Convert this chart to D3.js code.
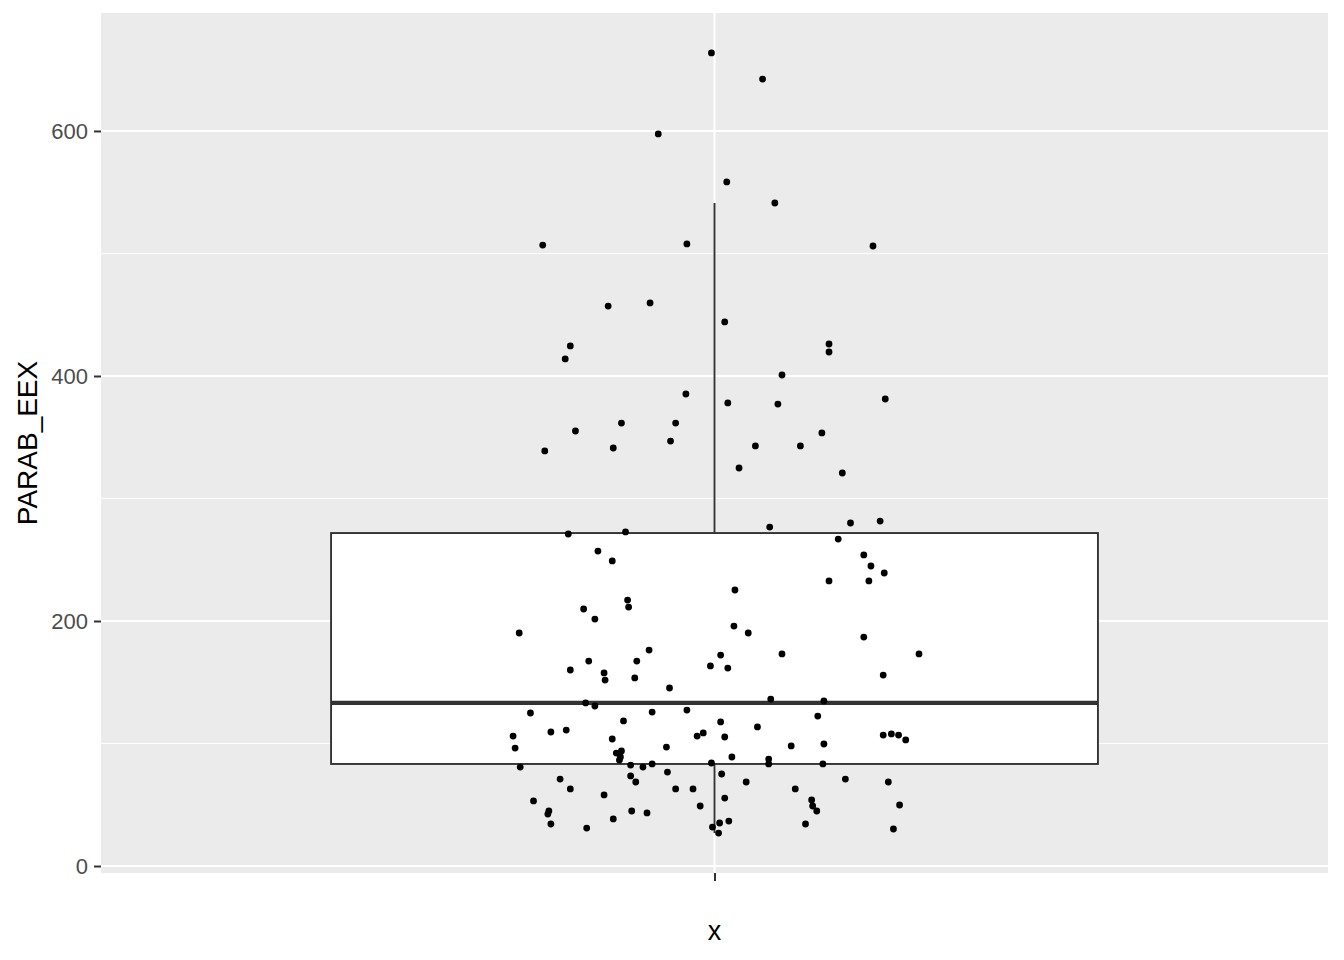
<!DOCTYPE html>
<html>
<head>
<meta charset="utf-8">
<script src="https://cdn.jsdelivr.net/npm/d3@7"></script>
<style>
  body { margin: 0; background: #ffffff; }
  text { font-family: "Liberation Sans", Arial, sans-serif; }
</style>
</head>
<body>
<svg id="viz" width="1344" height="960"></svg>
<script>
window.onload = main;

// PARAB_EEX values (jittered points)
var parabEex = [663.7, 642.4, 597.6, 558.4, 541.2, 506.9, 507.8, 506.1, 457.1, 459.6,
  444.1, 424.5, 426.1, 419.6, 413.9, 400.8, 381.2, 385.3, 378.0, 377.1,
  355.1, 361.6, 361.6, 353.5, 338.8, 341.2, 346.9, 342.9, 342.9, 324.9,
  320.8, 271.0, 272.7, 276.7, 280.0, 281.6, 266.9, 257.1, 249.0, 253.9,
  244.9, 239.2, 217.1, 211.4, 225.3, 232.7, 232.7, 209.8, 201.6, 190.2,
  195.9, 190.2, 186.9, 176.3, 173.1, 173.1, 167.3, 167.3, 172.2, 163.3,
  160.0, 157.6, 161.6, 153.5, 151.8, 155.9, 145.3, 133.1, 130.6, 136.3,
  134.7, 124.9, 125.7, 127.3, 122.4, 118.4, 117.6, 113.5, 109.4, 111.0,
  106.1, 106.1, 108.6, 106.9, 107.8, 106.9, 102.9, 103.7, 105.3, 97.1,
  96.3, 99.6, 93.9, 92.2, 98.0, 89.0, 86.5, 89.0, 87.3, 83.3,
  80.8, 82.4, 80.8, 83.3, 84.1, 83.3, 73.5, 75.1, 76.7, 68.6,
  71.0, 68.6, 71.0, 68.6, 62.9, 62.9, 62.9, 62.9, 55.5, 58.0,
  53.1, 53.9, 49.0, 44.9, 49.0, 49.8, 44.9, 42.4, 44.9, 43.3,
  38.4, 34.3, 36.7, 34.3, 31.0, 31.8, 35.1, 30.2, 26.9];

// horizontal position of each point on the discrete axis (category "x" = 1)
var jitterX = [0.997, 1.047, 0.945, 1.012, 1.059, 0.832, 0.973, 1.155, 0.896, 0.937,
  1.010, 0.859, 1.112, 1.112, 0.854, 1.066, 1.167, 0.972, 1.013, 1.062,
  0.864, 0.909, 0.962, 1.105, 0.834, 0.901, 0.957, 1.040, 1.084, 1.024,
  1.125, 0.857, 0.913, 1.054, 1.133, 1.162, 1.121, 0.886, 0.900, 1.146,
  1.153, 1.166, 0.915, 0.916, 1.020, 1.112, 1.151, 0.872, 0.883, 0.809,
  1.019, 1.033, 1.146, 0.936, 1.066, 1.200, 0.924, 0.877, 1.006, 0.996,
  0.859, 0.892, 1.013, 0.922, 0.893, 1.165, 0.956, 0.874, 0.883, 1.055,
  1.107, 0.820, 0.939, 0.973, 1.101, 0.911, 1.006, 1.042, 0.840, 0.855,
  0.803, 0.983, 0.989, 1.165, 1.173, 1.180, 1.187, 0.900, 1.010, 0.953,
  0.805, 1.107, 0.909, 0.904, 1.075, 0.908, 0.907, 1.017, 1.053, 1.053,
  0.810, 0.918, 0.930, 0.939, 0.997, 1.106, 0.918, 1.007, 0.954, 0.923,
  0.849, 1.031, 1.128, 1.170, 0.859, 0.962, 0.979, 1.079, 1.010, 0.892,
  0.823, 1.095, 1.096, 1.100, 0.986, 1.181, 0.838, 0.837, 0.919, 0.934,
  0.901, 0.840, 1.014, 1.089, 0.875, 0.998, 1.005, 1.175, 1.004];

var categories = ["x"];
// lower whisker, Q1, median, Q3, upper whisker
var boxStats = [26.9, 83.3, 133.1, 271.8, 541.2];
var yTicks = [0, 200, 400, 600];
var yMinor = [100, 300, 500];
var yDomain = [-5.7, 696.3];

var panel = {left: 101, right: 1328, top: 13, bottom: 873};

function main(){
  var svg = d3.select("#viz");

  var xScale = d3.scaleLinear()
                 .domain([0.4, 1.6])
                 .range([panel.left, panel.right]);
  var yScale = d3.scaleLinear()
                 .domain(yDomain)
                 .range([panel.bottom, panel.top]);

  // panel background
  svg.append("rect")
    .attr("x", panel.left)
    .attr("y", panel.top)
    .attr("width", panel.right - panel.left)
    .attr("height", panel.bottom - panel.top)
    .attr("fill", "#EBEBEB");

  // grid
  svg.selectAll(".minorGrid")
    .data(yMinor)
    .enter().append("line")
    .attr("class", "minorGrid")
    .attr("x1", panel.left).attr("x2", panel.right)
    .attr("y1", function(d){ return yScale(d); })
    .attr("y2", function(d){ return yScale(d); })
    .attr("stroke", "#ffffff").attr("stroke-width", 1.1);
  svg.selectAll(".majorGrid")
    .data(yTicks)
    .enter().append("line")
    .attr("class", "majorGrid")
    .attr("x1", panel.left).attr("x2", panel.right)
    .attr("y1", function(d){ return yScale(d); })
    .attr("y2", function(d){ return yScale(d); })
    .attr("stroke", "#ffffff").attr("stroke-width", 2.1);
  svg.append("line")
    .attr("x1", xScale(1)).attr("x2", xScale(1))
    .attr("y1", panel.top).attr("y2", panel.bottom)
    .attr("stroke", "#ffffff").attr("stroke-width", 2.1);

  // boxplot
  var half = 0.375;
  var g = svg.append("g");
  g.append("line")
    .attr("x1", xScale(1)).attr("x2", xScale(1))
    .attr("y1", yScale(boxStats[3])).attr("y2", yScale(boxStats[4]))
    .attr("stroke", "#333333").attr("stroke-width", 1.9);
  g.append("line")
    .attr("x1", xScale(1)).attr("x2", xScale(1))
    .attr("y1", yScale(boxStats[1])).attr("y2", yScale(boxStats[0]))
    .attr("stroke", "#333333").attr("stroke-width", 1.9);
  g.append("rect")
    .attr("x", xScale(1 - half))
    .attr("y", yScale(boxStats[3]))
    .attr("width", xScale(1 + half) - xScale(1 - half))
    .attr("height", yScale(boxStats[1]) - yScale(boxStats[3]))
    .attr("fill", "#ffffff")
    .attr("stroke", "#333333").attr("stroke-width", 1.9);
  g.append("line")
    .attr("x1", xScale(1 - half)).attr("x2", xScale(1 + half))
    .attr("y1", yScale(boxStats[2])).attr("y2", yScale(boxStats[2]))
    .attr("stroke", "#333333").attr("stroke-width", 4.3);

  // jittered points
  svg.selectAll(".pt")
    .data(parabEex)
    .enter().append("circle")
    .attr("class", "pt")
    .attr("cx", function(d, i){ return xScale(jitterX[i]); })
    .attr("cy", function(d){ return yScale(d); })
    .attr("r", 3.4)
    .attr("fill", "#000000");

  // y axis
  var yAxis = svg.append("g")
    .attr("transform", "translate(" + panel.left + ",0)")
    .call(d3.axisLeft(yScale).tickValues(yTicks).tickSize(7).tickPadding(6));
  yAxis.select(".domain").remove();
  yAxis.selectAll(".tick line").attr("stroke", "#333333").attr("stroke-width", 2);
  yAxis.selectAll(".tick text")
    .attr("fill", "#4D4D4D")
    .style("font-size", "22px");

  // x axis (single category)
  var xAxis = svg.append("g")
    .attr("transform", "translate(0," + panel.bottom + ")")
    .call(d3.axisBottom(xScale).tickValues([1]).tickFormat(function(){ return ""; }).tickSize(8));
  xAxis.select(".domain").remove();
  xAxis.selectAll(".tick line").attr("stroke", "#333333").attr("stroke-width", 2);

  // axis titles
  svg.append("text")
    .attr("x", xScale(1))
    .attr("y", 940)
    .attr("text-anchor", "middle")
    .attr("fill", "#000000")
    .style("font-size", "27px")
    .text(categories[0]);
  svg.append("text")
    .attr("transform", "translate(37," + ((panel.top + panel.bottom) / 2) + ") rotate(-90)")
    .attr("text-anchor", "middle")
    .attr("fill", "#000000")
    .style("font-size", "28px")
    .text("PARAB_EEX");
}
</script>
</body>
</html>
